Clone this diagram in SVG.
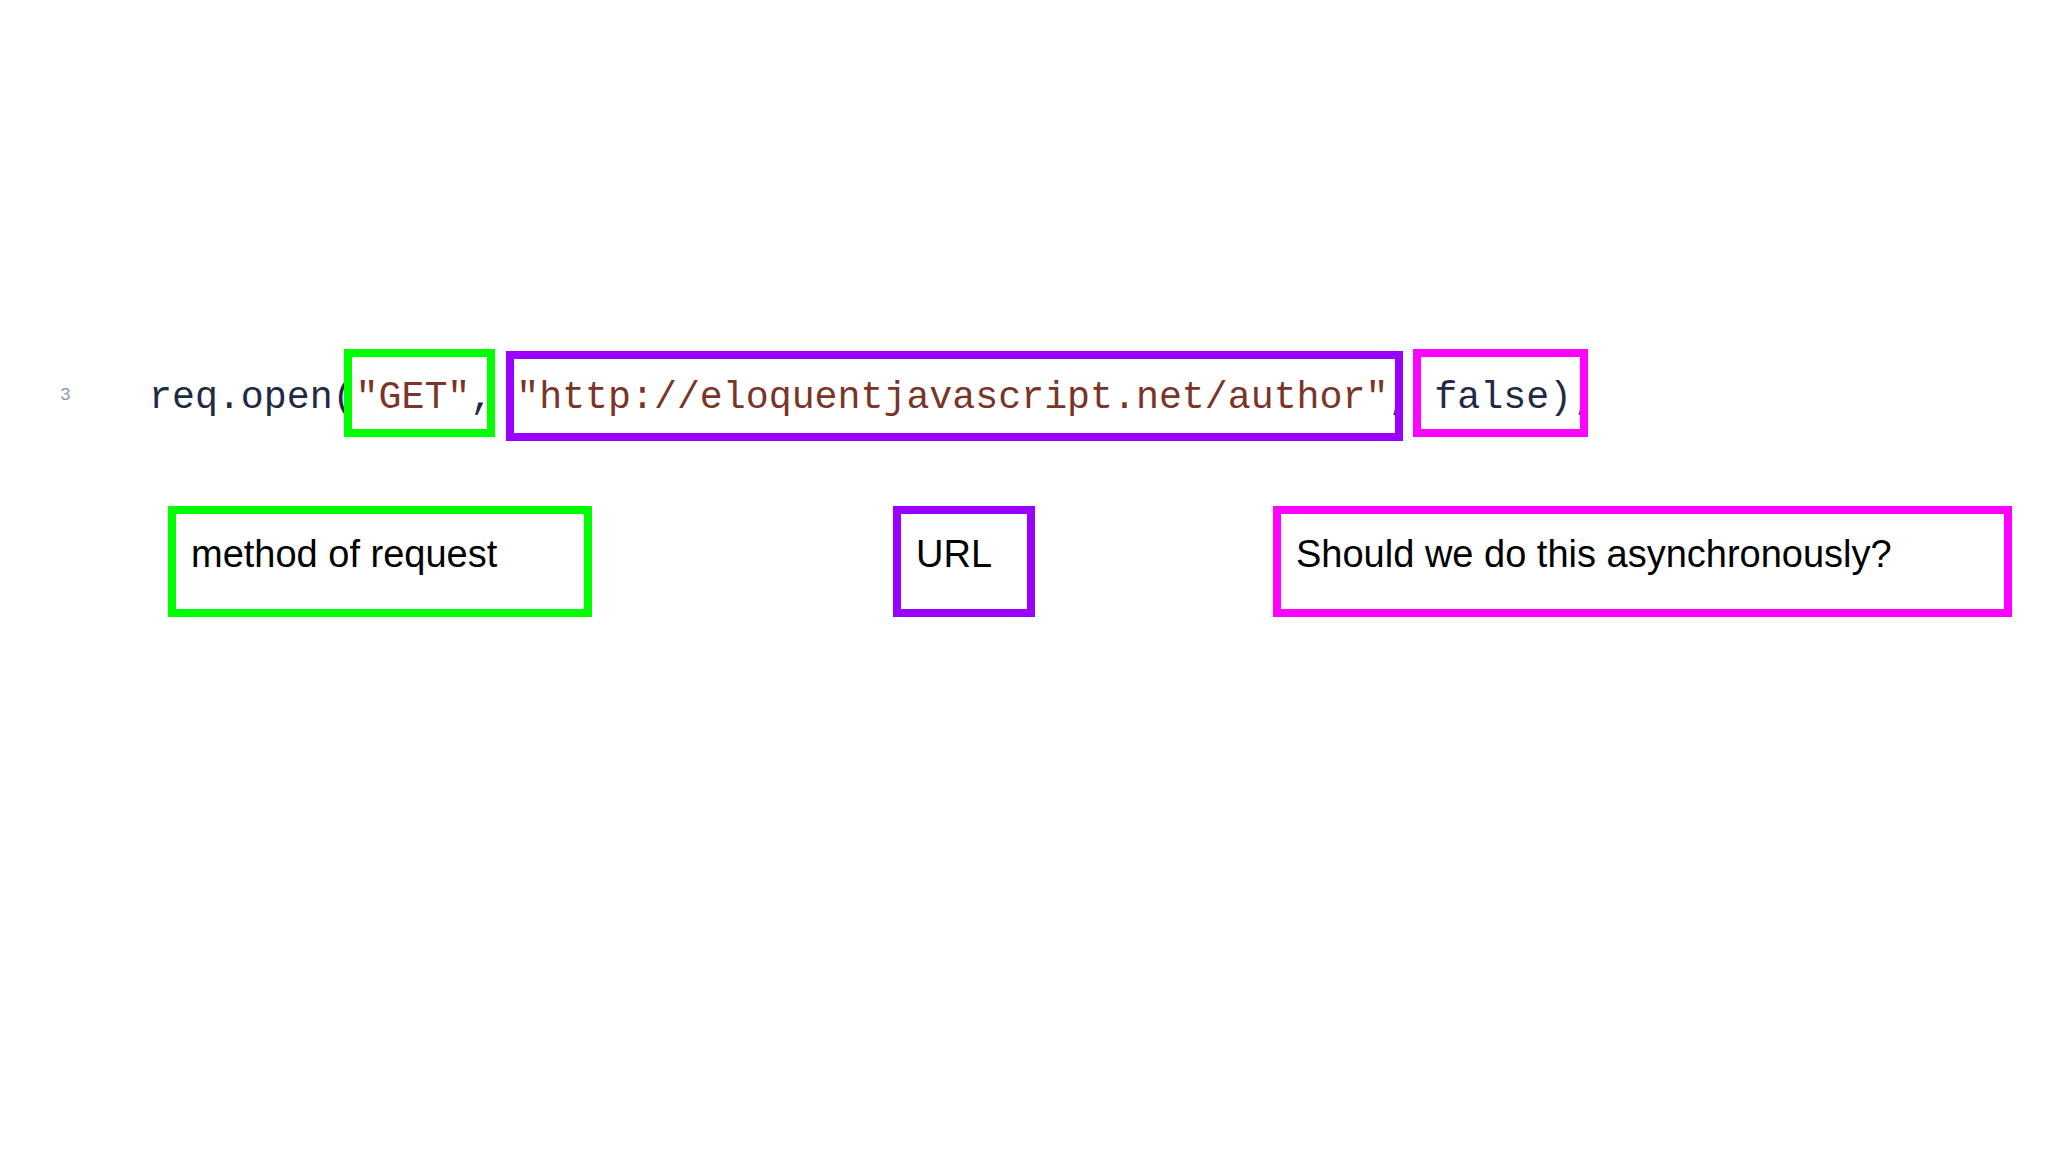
<svg xmlns="http://www.w3.org/2000/svg" width="2048" height="1152" viewBox="0 0 2048 1152">
<style>
.code{font-family:"Liberation Mono",monospace;font-size:38px;fill:#1f2a44}
.str{fill:#7a3528}
.lbl{font-family:"Liberation Sans",Arial,sans-serif;font-size:38px;fill:#000}
.box{fill:none;stroke-width:8}
.g{stroke:#00ff00}.p{stroke:#9900ff}.m{stroke:#ff00ff}
</style>
<rect width="2048" height="1152" fill="#ffffff"/>
<text x="60" y="400" font-family="Liberation Mono,monospace" font-size="18" fill="#8a9aa8">3</text>
<text class="code" x="149" y="408" textLength="1446" lengthAdjust="spacingAndGlyphs">req.open(<tspan class="str">"GET"</tspan>, <tspan class="str">"http://eloquentjavascript.net/author"</tspan>, false);</text>
<g id="hl-get"><rect class="box g" x="348" y="353" width="143" height="80"/></g>
<g id="hl-url"><rect class="box p" x="510" y="355" width="889" height="82"/></g>
<g id="hl-false"><rect class="box m" x="1417" y="353" width="167" height="80"/></g>
<g id="method"><rect class="box g" x="172" y="510" width="416" height="103"/><text class="lbl" x="191" y="567">method of request</text></g>
<g id="url"><rect class="box p" x="897" y="510" width="134" height="103"/><text class="lbl" x="916" y="567">URL</text></g>
<g id="async"><rect class="box m" x="1277" y="510" width="731" height="103"/><text class="lbl" x="1296" y="567">Should we do this asynchronously?</text></g>
<g id="connectors"/>
</svg>
